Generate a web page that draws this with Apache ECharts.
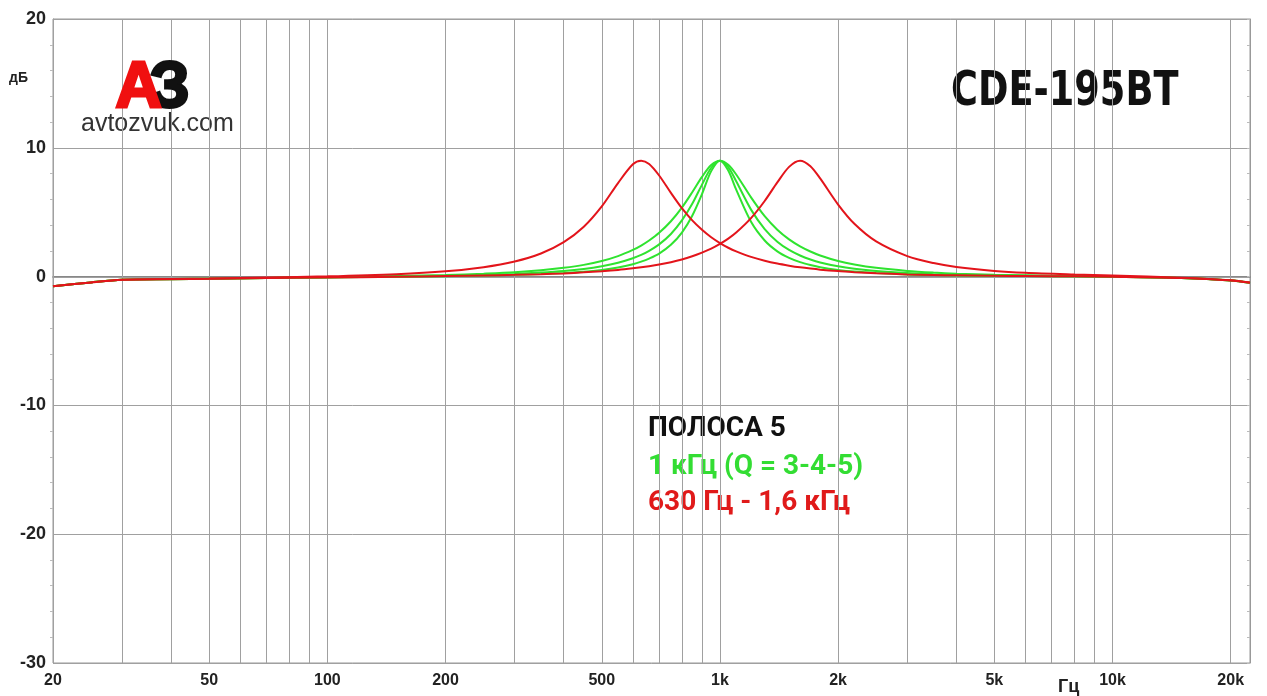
<!DOCTYPE html>
<html>
<head>
<meta charset="utf-8">
<script src="https://cdn.jsdelivr.net/npm/echarts@6/dist/echarts.min.js"></script>
<style>
html,body{margin:0;padding:0;background:#fff;}
#chart{width:1267px;height:696px;}
</style>
</head>
<body>
<div id="chart"></div>
<script>
// Frequencies (Hz) at which the curves are sampled
const freqs = [20,25,30,40,50,70,100,150,200,250,300,350,400,450,500,550,600,630,660,700,750,800,850,900,950,1000,1050,1100,1200,1300,1400,1500,1600,1700,1800,2000,2200,2500,3000,3500,4000,5000,6000,8000,10000,15000,20000,22400];

// Green: 1 kHz, three Q settings (dB)
const green1k_wide = [-0.75,-0.45,-0.25,-0.19,-0.16,-0.10,-0.05,0.04,0.12,0.23,0.34,0.49,0.68,0.91,1.21,1.59,2.07,2.41,2.8,3.4,4.3,5.36,6.55,7.74,8.66,9.0,8.69,7.93,6.15,4.69,3.64,2.89,2.35,1.95,1.64,1.21,0.94,0.68,0.44,0.31,0.23,0.14,0.1,0.05,0.01,-0.11,-0.29,-0.47];
const green1k_mid = [-0.75,-0.45,-0.25,-0.2,-0.16,-0.11,-0.06,0.01,0.07,0.14,0.21,0.31,0.43,0.59,0.8,1.07,1.42,1.68,2.0,2.5,3.31,4.36,5.65,7.14,8.45,9.0,8.5,7.4,5.2,3.69,2.71,2.07,1.64,1.33,1.1,0.8,0.61,0.43,0.27,0.19,0.14,0.09,0.06,0.03,0,-0.11,-0.3,-0.48];
const green1k_narrow = [-0.75,-0.45,-0.25,-0.2,-0.17,-0.11,-0.07,-0.01,0.03,0.09,0.14,0.2,0.28,0.38,0.52,0.71,0.96,1.16,1.4,1.79,2.47,3.42,4.73,6.41,8.19,9.0,8.24,6.75,4.25,2.8,1.96,1.45,1.12,0.9,0.73,0.52,0.39,0.28,0.17,0.12,0.09,0.05,0.04,0.02,-0.01,-0.11,-0.3,-0.48];

// Red: 630 Hz and 1.6 kHz (dB)
const red630 = [-0.75,-0.45,-0.24,-0.19,-0.15,-0.07,0.02,0.19,0.41,0.73,1.17,1.79,2.67,3.87,5.45,7.26,8.72,9.0,8.74,7.85,6.5,5.31,4.36,3.63,3.05,2.6,2.24,1.96,1.53,1.23,1.01,0.85,0.72,0.62,0.54,0.43,0.34,0.26,0.17,0.13,0.1,0.06,0.04,0.02,-0.01,-0.11,-0.3,-0.48];
const red1600 = [-0.75,-0.45,-0.25,-0.2,-0.17,-0.11,-0.07,-0.01,0.04,0.09,0.14,0.19,0.25,0.33,0.42,0.52,0.64,0.72,0.81,0.94,1.12,1.33,1.58,1.86,2.17,2.54,2.95,3.42,4.54,5.87,7.31,8.52,9.0,8.57,7.62,5.59,4.1,2.73,1.59,1.05,0.75,0.44,0.29,0.16,0.08,-0.08,-0.28,-0.46];

// Vertical grid lines and x tick labels
const gridFreqs = [20,30,40,50,60,70,80,90,100,200,300,400,500,600,700,800,900,1000,2000,3000,4000,5000,6000,7000,8000,9000,10000,20000];
const xTickFreqs = [20,50,100,200,500,1000,2000,5000,10000,20000];
const xTickLabels = ['20','50','100','200','500','1k','2k','5k','10k','20k'];

const GREEN = '#2fe32f';
const RED = '#e3141b';
const FONT = '"Liberation Sans", Arial, sans-serif';

function pairs(vals){ return freqs.map((f,i)=>[f, vals[i]]); }

const chart = echarts.init(document.getElementById('chart'), null, {renderer:'canvas'});

const gridMarks = gridFreqs.map(f => {
  const idx = xTickFreqs.indexOf(f);
  return {
    xAxis: f,
    label: idx >= 0 ? {show:true, formatter: xTickLabels[idx]} : {show:false}
  };
});

function curve(name, vals, color){
  return {
    name, type:'line', data: pairs(vals), showSymbol:false, symbol:'none',
    smooth: 0.3, z: 5, silent:true,
    lineStyle:{color, width:2}
  };
}

chart.setOption({
  animation:false,
  backgroundColor:'#fff',
  grid:{left:53, right:17, top:19, bottom:33, show:true, borderColor:'#999', borderWidth:1},
  xAxis:{
    type:'log', logBase:10, min:20, max:22400,
    axisLine:{show:true, lineStyle:{color:'#808080', width:1.5}},
    axisTick:{show:false}, axisLabel:{show:false}, splitLine:{show:false}
  },
  yAxis:[{
    type:'value', min:-30, max:20, interval:10,
    axisLine:{show:true, lineStyle:{color:'#999'}},
    axisTick:{show:false},
    minorTick:{show:true, splitNumber:5, length:3, lineStyle:{color:'#bbb'}},
    axisLabel:{color:'#222', fontSize:18, fontWeight:'bold', fontFamily:FONT, margin:7},
    splitLine:{show:true, lineStyle:{color:'#a0a0a0', width:1}}
  },{
    type:'value', min:-30, max:20, interval:10, position:'right',
    axisLine:{show:true, lineStyle:{color:'#999'}},
    axisTick:{show:true, inside:true, length:3, lineStyle:{color:'#bbb'}},
    minorTick:{show:true, splitNumber:5, length:3, lineStyle:{color:'#bbb'}},
    axisLabel:{show:false}, splitLine:{show:false}
  }],
  series:[
    {
      type:'line', data:[], z:1, silent:true,
      markLine:{
        silent:true, symbol:['none','none'], animation:false,
        lineStyle:{color:'#a0a0a0', width:1, type:'solid'},
        label:{position:'start', distance:10, color:'#222', fontSize:16, fontWeight:'bold', fontFamily:FONT},
        emphasis:{disabled:true},
        data: gridMarks
      }
    },
    curve('1 kHz Q3', green1k_wide, GREEN),
    curve('1 kHz Q4', green1k_mid, GREEN),
    curve('1 kHz Q5', green1k_narrow, GREEN),
    curve('630 Hz', red630, RED),
    curve('1.6 kHz', red1600, RED)
  ],
  graphic:[
    {type:'text', left:9, top:71, style:{text:'дБ', fill:'#222', font:'bold 14px '+FONT}},
    {type:'text', left:1058, top:678, style:{text:'Гц', fill:'#222', font:'bold 18px '+FONT}},
    {type:'text', left:114, top:56, z:10, style:{text:'А', fill:'#f01010', stroke:'#f01010', lineWidth:3, font:'bold 64px '+FONT,
      shadowColor:'rgba(0,0,0,0.35)', shadowBlur:3, shadowOffsetX:2, shadowOffsetY:2}},
    {type:'text', left:148, top:56, z:9, style:{text:'З', fill:'#111', stroke:'#111', lineWidth:3, font:'bold 64px '+FONT,
      shadowColor:'rgba(0,0,0,0.35)', shadowBlur:3, shadowOffsetX:2, shadowOffsetY:2}},
    {type:'text', left:81, top:112, style:{text:'avtozvuk.com', fill:'#333', font:'25px '+FONT}},
    {type:'text', x:951, y:69, scaleX:0.765, style:{text:'CDE-195BT', fill:'#111', font:'bold 48px "DejaVu Sans", sans-serif'}},
    {type:'text', left:648, top:415, style:{text:'ПОЛОСА 5', fill:'#111', font:'bold 28px Roboto, sans-serif'}},
    {type:'text', left:648, top:453, style:{text:'1 кГц (Q = 3-4-5)', fill:'#33dd33', font:'bold 28px Roboto, sans-serif'}},
    {type:'text', left:648, top:489, style:{text:'630 Гц - 1,6 кГц', fill:'#e01a1a', font:'bold 28px Roboto, sans-serif'}}
  ]
});
</script>
</body>
</html>
